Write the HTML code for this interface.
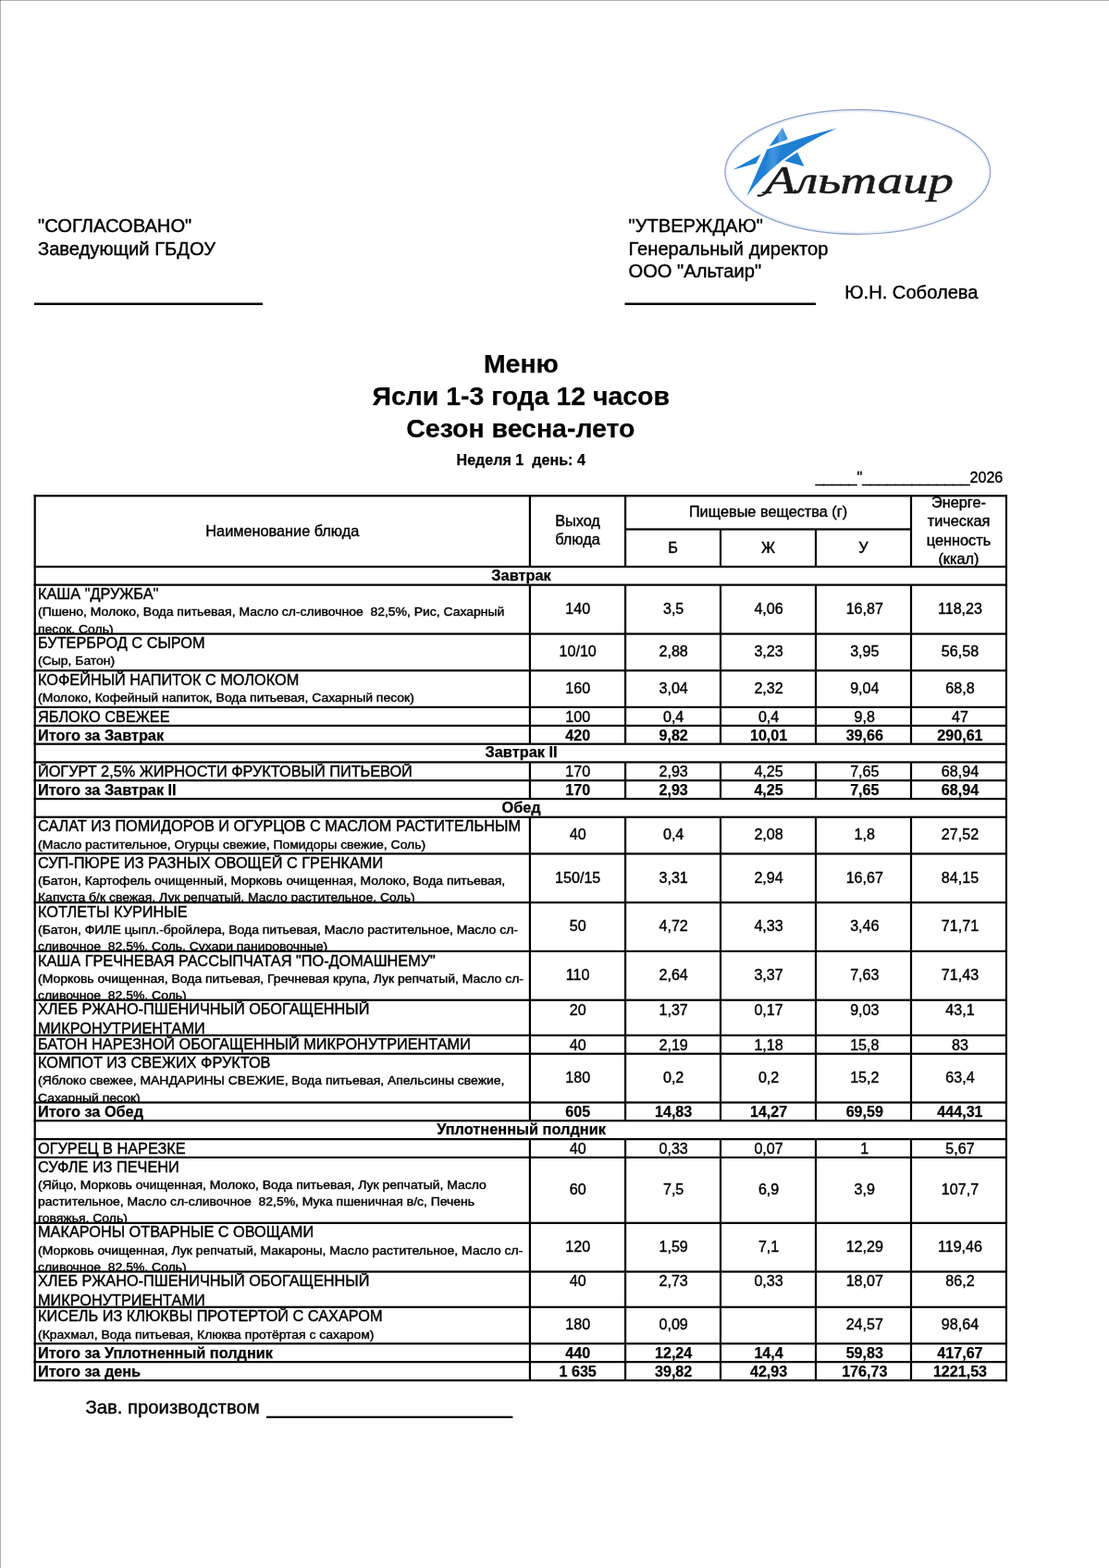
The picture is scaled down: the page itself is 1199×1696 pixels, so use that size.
<!DOCTYPE html>
<html lang="ru"><head><meta charset="utf-8"><title>Меню</title>
<style>

html,body{margin:0;padding:0;background:#fff;}
body{-webkit-text-stroke:0.4px #000;width:1199px;height:1696px;position:relative;overflow:hidden;font-family:"Liberation Sans",sans-serif;color:#000;}
.pg{position:absolute;left:0;top:0;width:1199px;height:1696px;overflow:hidden;}
.a{position:absolute;white-space:nowrap;}
.l{position:absolute;background:#000;}
.c{position:absolute;overflow:hidden;}
.n{position:absolute;text-align:center;font-size:16.1px;white-space:nowrap;}
.b{font-weight:bold;-webkit-text-stroke:0.25px #000;}

</style></head><body><div class="pg">
<div class="a" style="left:0;top:0;width:1199px;height:1px;background:#b0b0b0"></div>
<div class="a" style="left:0;top:0;width:1px;height:1696px;background:#b0b0b0"></div>
<div class="a" style="left:0;top:0;width:1px;height:1px;background:#777"></div>
<svg class="a" style="left:770px;top:100px" width="320" height="170" viewBox="770 100 320 170">
<defs>
<linearGradient id="lg1" x1="0" y1="0" x2="1" y2="0"><stop offset="0" stop-color="#1a78cc"/><stop offset="0.45" stop-color="#2b86d6"/><stop offset="0.55" stop-color="#5aa6e6"/><stop offset="1" stop-color="#2b86d6"/></linearGradient>
<linearGradient id="lg2" x1="0" y1="0" x2="1" y2="0"><stop offset="0" stop-color="#1f7fd2"/><stop offset="0.5" stop-color="#4b9be2"/><stop offset="1" stop-color="#1f7fd2"/></linearGradient>
<clipPath id="cp1"><path d="M904.8 138.7 Q876 145.5 851.4 154.7 L829.4 161.4 Q820 182 807.4 212.1 Q822 192 844.8 174.1 Q870 154 904.8 138.7 Z"/></clipPath>
</defs>
<ellipse cx="927.3" cy="186" rx="142.2" ry="66" fill="#fff" stroke="#eaf1fa" stroke-width="2.4"/>
<ellipse cx="927.3" cy="186" rx="143.5" ry="67.3" fill="none" stroke="#8f9fc6" stroke-width="1.2"/>
<g fill="#1f7fd2">
<path d="M846.1 138 L831.7 158.3 L851.7 150.7 Z" fill="url(#lg1)"/>
<path d="M904.8 138.7 Q876 145.5 851.4 154.7 L829.4 161.4 Q820 182 807.4 212.1 Q822 192 844.8 174.1 Q870 154 904.8 138.7 Z"/>
<path d="M832 160 L846 156 L840 178 L826 194 Z" fill="url(#lg2)" opacity="0.8" clip-path="url(#cp1)"/>
<path d="M792 183.8 L822.7 166.7 L817.4 176.8 Z"/>
<path d="M862.1 164.7 L869.5 180.1 L848.1 174.1 Z"/>
</g>
<path d="M819.5 211.5 C824 212.5 829 209 833 203" fill="none" stroke="#1a1a1a" stroke-width="2.2" stroke-linecap="round"/>
<text x="827" y="209" font-family="'Liberation Serif',serif" font-style="italic" font-size="42" textLength="204" lengthAdjust="spacingAndGlyphs" fill="#1a1a1a" stroke="#1a1a1a" stroke-width="0.6">Альтаир</text>
</svg>

<div class="a " style="left:41.00px;top:234.19px;font-size:20.15px;line-height:20.15px;">&quot;СОГЛАСОВАНО&quot;</div>
<div class="a " style="left:41.00px;top:259.24px;font-size:20.15px;line-height:20.15px;">Заведующий ГБДОУ</div>
<div class="a " style="left:679.50px;top:234.19px;font-size:20.15px;line-height:20.15px;">&quot;УТВЕРЖДАЮ&quot;</div>
<div class="a " style="left:679.50px;top:259.24px;font-size:20.15px;line-height:20.15px;">Генеральный директор</div>
<div class="a " style="left:679.50px;top:282.94px;font-size:20.15px;line-height:20.15px;">ООО &quot;Альтаир&quot;</div>
<div class="a " style="left:913.20px;top:306.24px;font-size:20.15px;line-height:20.15px;">Ю.Н. Соболева</div>
<div class="a b" style="left:563.40px;top:379.42px;width:600px;margin-left:-300px;text-align:center;font-size:28.45px;line-height:28.45px;">Меню</div>
<div class="a b" style="left:563.20px;top:414.22px;width:600px;margin-left:-300px;text-align:center;font-size:28.45px;line-height:28.45px;">Ясли 1-3 года 12 часов</div>
<div class="a b" style="left:562.90px;top:448.52px;width:600px;margin-left:-300px;text-align:center;font-size:28.45px;line-height:28.45px;">Сезон весна-лето</div>
<div class="a b" style="left:563.20px;top:488.57px;width:600px;margin-left:-300px;text-align:center;font-size:16.10px;line-height:16.10px;white-space:pre;">Неделя 1  день: 4</div>
<div class="a" style="right:114.70px;top:508.37px;font-size:16.1px;line-height:16.1px;">_____&quot;_____________2026</div>
<div class="n " style="left:37.70px;top:565.70px;width:535.20px;font-size:16.30px;line-height:16.30px">Наименование блюда</div>
<div class="n " style="left:572.90px;top:554.70px;width:103.20px;font-size:16.30px;line-height:16.30px">Выход</div>
<div class="n " style="left:572.90px;top:575.20px;width:103.20px;font-size:16.30px;line-height:16.30px">блюда</div>
<div class="n " style="left:676.10px;top:544.95px;width:308.90px;font-size:16.30px;line-height:16.30px">Пищевые вещества (г)</div>
<div class="n " style="left:676.10px;top:584.30px;width:102.90px;font-size:16.30px;line-height:16.30px">Б</div>
<div class="n " style="left:779.00px;top:584.30px;width:103.00px;font-size:16.30px;line-height:16.30px">Ж</div>
<div class="n " style="left:882.00px;top:584.30px;width:103.00px;font-size:16.30px;line-height:16.30px">У</div>
<div class="c" style="left:985.00px;top:537.00px;width:102.95px;height:75.25px">
<div class="n" style="left:0;top:-2.30px;width:100%;font-size:16.30px;line-height:16.30px">Энерге-</div>
<div class="n" style="left:0;top:18.23px;width:100%;font-size:16.30px;line-height:16.30px">тическая</div>
<div class="n" style="left:0;top:38.76px;width:100%;font-size:16.30px;line-height:16.30px">ценность</div>
<div class="n" style="left:0;top:59.29px;width:100%;font-size:16.30px;line-height:16.30px">(ккал)</div>
</div>
<div class="n b" style="left:37.70px;top:613.66px;width:1051.75px;font-size:16.35px;line-height:16.35px">Завтрак</div>
<div class="c" style="left:38.80px;top:633.75px;width:533.00px;height:51.05px"><div class="a nm" style="left:2.20px;top:0.55px;font-size:16.30px;line-height:16.30px;white-space:pre">КАША &quot;ДРУЖБА&quot;</div><div class="a ig" style="left:2.20px;top:22.61px;font-size:12.10px;line-height:12.10px;white-space:pre;transform:scaleX(1.153);transform-origin:0 0">(Пшено, Молоко, Вода питьевая, Масло сл-сливочное  82,5%, Рис, Сахарный</div><div class="a ig" style="left:2.20px;top:40.86px;font-size:12.10px;line-height:12.10px;white-space:pre;transform:scaleX(1.153);transform-origin:0 0">песок, Соль)</div></div>
<div class="n " style="left:573.10px;top:649.80px;width:103.20px;font-size:16.10px;line-height:16.10px">140</div>
<div class="n " style="left:676.70px;top:649.80px;width:102.90px;font-size:16.10px;line-height:16.10px">3,5</div>
<div class="n " style="left:779.60px;top:649.80px;width:103.00px;font-size:16.10px;line-height:16.10px">4,06</div>
<div class="n " style="left:883.30px;top:649.80px;width:103.00px;font-size:16.10px;line-height:16.10px">16,87</div>
<div class="n " style="left:986.50px;top:649.80px;width:102.95px;font-size:16.10px;line-height:16.10px">118,23</div>
<div class="c" style="left:38.80px;top:686.70px;width:533.00px;height:37.80px"><div class="a nm" style="left:2.20px;top:0.55px;font-size:16.30px;line-height:16.30px;white-space:pre">БУТЕРБРОД С СЫРОМ</div><div class="a ig" style="left:2.20px;top:22.61px;font-size:12.10px;line-height:12.10px;white-space:pre;transform:scaleX(1.153);transform-origin:0 0">(Сыр, Батон)</div></div>
<div class="n " style="left:573.10px;top:696.12px;width:103.20px;font-size:16.10px;line-height:16.10px">10/10</div>
<div class="n " style="left:676.70px;top:696.12px;width:102.90px;font-size:16.10px;line-height:16.10px">2,88</div>
<div class="n " style="left:779.60px;top:696.12px;width:103.00px;font-size:16.10px;line-height:16.10px">3,23</div>
<div class="n " style="left:883.30px;top:696.12px;width:103.00px;font-size:16.10px;line-height:16.10px">3,95</div>
<div class="n " style="left:986.50px;top:696.12px;width:102.95px;font-size:16.10px;line-height:16.10px">56,58</div>
<div class="c" style="left:38.80px;top:726.40px;width:533.00px;height:37.70px"><div class="a nm" style="left:2.20px;top:0.55px;font-size:16.30px;line-height:16.30px;white-space:pre">КОФЕЙНЫЙ НАПИТОК С МОЛОКОМ</div><div class="a ig" style="left:2.20px;top:22.61px;font-size:12.10px;line-height:12.10px;white-space:pre;transform:scaleX(1.153);transform-origin:0 0">(Молоко, Кофейный напиток, Вода питьевая, Сахарный песок)</div></div>
<div class="n " style="left:573.10px;top:735.77px;width:103.20px;font-size:16.10px;line-height:16.10px">160</div>
<div class="n " style="left:676.70px;top:735.77px;width:102.90px;font-size:16.10px;line-height:16.10px">3,04</div>
<div class="n " style="left:779.60px;top:735.77px;width:103.00px;font-size:16.10px;line-height:16.10px">2,32</div>
<div class="n " style="left:883.30px;top:735.77px;width:103.00px;font-size:16.10px;line-height:16.10px">9,04</div>
<div class="n " style="left:986.50px;top:735.77px;width:102.95px;font-size:16.10px;line-height:16.10px">68,8</div>
<div class="c" style="left:38.80px;top:766.00px;width:533.00px;height:18.10px"><div class="a nm" style="left:2.20px;top:0.55px;font-size:16.30px;line-height:16.30px;white-space:pre">ЯБЛОКО СВЕЖЕЕ</div></div>
<div class="n " style="left:573.10px;top:766.72px;width:103.20px;font-size:16.10px;line-height:16.10px">100</div>
<div class="n " style="left:676.70px;top:766.72px;width:102.90px;font-size:16.10px;line-height:16.10px">0,4</div>
<div class="n " style="left:779.60px;top:766.72px;width:103.00px;font-size:16.10px;line-height:16.10px">0,4</div>
<div class="n " style="left:883.30px;top:766.72px;width:103.00px;font-size:16.10px;line-height:16.10px">9,8</div>
<div class="n " style="left:986.50px;top:766.72px;width:102.95px;font-size:16.10px;line-height:16.10px">47</div>
<div class="c" style="left:38.80px;top:786.00px;width:533.00px;height:17.90px"><div class="a nm b" style="left:2.20px;top:0.55px;font-size:16.30px;line-height:16.30px;white-space:pre">Итого за Завтрак</div></div>
<div class="n b" style="left:573.10px;top:786.72px;width:103.20px;font-size:16.10px;line-height:16.10px">420</div>
<div class="n b" style="left:676.70px;top:786.72px;width:102.90px;font-size:16.10px;line-height:16.10px">9,82</div>
<div class="n b" style="left:779.60px;top:786.72px;width:103.00px;font-size:16.10px;line-height:16.10px">10,01</div>
<div class="n b" style="left:883.30px;top:786.72px;width:103.00px;font-size:16.10px;line-height:16.10px">39,66</div>
<div class="n b" style="left:986.50px;top:786.72px;width:102.95px;font-size:16.10px;line-height:16.10px">290,61</div>
<div class="n b" style="left:37.70px;top:805.41px;width:1051.75px;font-size:16.35px;line-height:16.35px">Завтрак II</div>
<div class="c" style="left:38.80px;top:825.55px;width:533.00px;height:17.85px"><div class="a nm" style="left:2.20px;top:0.55px;font-size:16.30px;line-height:16.30px;white-space:pre">ЙОГУРТ 2,5% ЖИРНОСТИ ФРУКТОВЫЙ ПИТЬЕВОЙ</div></div>
<div class="n " style="left:573.10px;top:826.27px;width:103.20px;font-size:16.10px;line-height:16.10px">170</div>
<div class="n " style="left:676.70px;top:826.27px;width:102.90px;font-size:16.10px;line-height:16.10px">2,93</div>
<div class="n " style="left:779.60px;top:826.27px;width:103.00px;font-size:16.10px;line-height:16.10px">4,25</div>
<div class="n " style="left:883.30px;top:826.27px;width:103.00px;font-size:16.10px;line-height:16.10px">7,65</div>
<div class="n " style="left:986.50px;top:826.27px;width:102.95px;font-size:16.10px;line-height:16.10px">68,94</div>
<div class="c" style="left:38.80px;top:845.30px;width:533.00px;height:17.95px"><div class="a nm b" style="left:2.20px;top:0.55px;font-size:16.30px;line-height:16.30px;white-space:pre">Итого за Завтрак II</div></div>
<div class="n b" style="left:573.10px;top:846.02px;width:103.20px;font-size:16.10px;line-height:16.10px">170</div>
<div class="n b" style="left:676.70px;top:846.02px;width:102.90px;font-size:16.10px;line-height:16.10px">2,93</div>
<div class="n b" style="left:779.60px;top:846.02px;width:103.00px;font-size:16.10px;line-height:16.10px">4,25</div>
<div class="n b" style="left:883.30px;top:846.02px;width:103.00px;font-size:16.10px;line-height:16.10px">7,65</div>
<div class="n b" style="left:986.50px;top:846.02px;width:102.95px;font-size:16.10px;line-height:16.10px">68,94</div>
<div class="n b" style="left:37.70px;top:864.76px;width:1051.75px;font-size:16.35px;line-height:16.35px">Обед</div>
<div class="c" style="left:38.80px;top:884.90px;width:533.00px;height:37.75px"><div class="a nm" style="left:2.20px;top:0.55px;font-size:16.30px;line-height:16.30px;white-space:pre">САЛАТ ИЗ ПОМИДОРОВ И ОГУРЦОВ С МАСЛОМ РАСТИТЕЛЬНЫМ</div><div class="a ig" style="left:2.20px;top:22.61px;font-size:12.10px;line-height:12.10px;white-space:pre;transform:scaleX(1.153);transform-origin:0 0">(Масло растительное, Огурцы свежие, Помидоры свежие, Соль)</div></div>
<div class="n " style="left:573.10px;top:894.30px;width:103.20px;font-size:16.10px;line-height:16.10px">40</div>
<div class="n " style="left:676.70px;top:894.30px;width:102.90px;font-size:16.10px;line-height:16.10px">0,4</div>
<div class="n " style="left:779.60px;top:894.30px;width:103.00px;font-size:16.10px;line-height:16.10px">2,08</div>
<div class="n " style="left:883.30px;top:894.30px;width:103.00px;font-size:16.10px;line-height:16.10px">1,8</div>
<div class="n " style="left:986.50px;top:894.30px;width:102.95px;font-size:16.10px;line-height:16.10px">27,52</div>
<div class="c" style="left:38.80px;top:924.55px;width:533.00px;height:50.85px"><div class="a nm" style="left:2.20px;top:0.55px;font-size:16.30px;line-height:16.30px;white-space:pre">СУП-ПЮРЕ ИЗ РАЗНЫХ ОВОЩЕЙ С ГРЕНКАМИ</div><div class="a ig" style="left:2.20px;top:22.61px;font-size:12.10px;line-height:12.10px;white-space:pre;transform:scaleX(1.153);transform-origin:0 0">(Батон, Картофель очищенный, Морковь очищенная, Молоко, Вода питьевая,</div><div class="a ig" style="left:2.20px;top:40.86px;font-size:12.10px;line-height:12.10px;white-space:pre;transform:scaleX(1.153);transform-origin:0 0">Капуста б/к свежая, Лук репчатый, Масло растительное, Соль)</div></div>
<div class="n " style="left:573.10px;top:940.50px;width:103.20px;font-size:16.10px;line-height:16.10px">150/15</div>
<div class="n " style="left:676.70px;top:940.50px;width:102.90px;font-size:16.10px;line-height:16.10px">3,31</div>
<div class="n " style="left:779.60px;top:940.50px;width:103.00px;font-size:16.10px;line-height:16.10px">2,94</div>
<div class="n " style="left:883.30px;top:940.50px;width:103.00px;font-size:16.10px;line-height:16.10px">16,67</div>
<div class="n " style="left:986.50px;top:940.50px;width:102.95px;font-size:16.10px;line-height:16.10px">84,15</div>
<div class="c" style="left:38.80px;top:977.30px;width:533.00px;height:50.80px"><div class="a nm" style="left:2.20px;top:0.55px;font-size:16.30px;line-height:16.30px;white-space:pre">КОТЛЕТЫ КУРИНЫЕ</div><div class="a ig" style="left:2.20px;top:22.61px;font-size:12.10px;line-height:12.10px;white-space:pre;transform:scaleX(1.153);transform-origin:0 0">(Батон, ФИЛЕ цыпл.-бройлера, Вода питьевая, Масло растительное, Масло сл-</div><div class="a ig" style="left:2.20px;top:40.86px;font-size:12.10px;line-height:12.10px;white-space:pre;transform:scaleX(1.153);transform-origin:0 0">сливочное  82,5%, Соль, Сухари панировочные)</div></div>
<div class="n " style="left:573.10px;top:993.22px;width:103.20px;font-size:16.10px;line-height:16.10px">50</div>
<div class="n " style="left:676.70px;top:993.22px;width:102.90px;font-size:16.10px;line-height:16.10px">4,72</div>
<div class="n " style="left:779.60px;top:993.22px;width:103.00px;font-size:16.10px;line-height:16.10px">4,33</div>
<div class="n " style="left:883.30px;top:993.22px;width:103.00px;font-size:16.10px;line-height:16.10px">3,46</div>
<div class="n " style="left:986.50px;top:993.22px;width:102.95px;font-size:16.10px;line-height:16.10px">71,71</div>
<div class="c" style="left:38.80px;top:1030.00px;width:533.00px;height:50.90px"><div class="a nm" style="left:2.20px;top:0.55px;font-size:16.30px;line-height:16.30px;white-space:pre">КАША ГРЕЧНЕВАЯ РАССЫПЧАТАЯ &quot;ПО-ДОМАШНЕМУ&quot;</div><div class="a ig" style="left:2.20px;top:22.61px;font-size:12.10px;line-height:12.10px;white-space:pre;transform:scaleX(1.153);transform-origin:0 0">(Морковь очищенная, Вода питьевая, Гречневая крупа, Лук репчатый, Масло сл-</div><div class="a ig" style="left:2.20px;top:40.86px;font-size:12.10px;line-height:12.10px;white-space:pre;transform:scaleX(1.153);transform-origin:0 0">сливочное  82,5%, Соль)</div></div>
<div class="n " style="left:573.10px;top:1045.97px;width:103.20px;font-size:16.10px;line-height:16.10px">110</div>
<div class="n " style="left:676.70px;top:1045.97px;width:102.90px;font-size:16.10px;line-height:16.10px">2,64</div>
<div class="n " style="left:779.60px;top:1045.97px;width:103.00px;font-size:16.10px;line-height:16.10px">3,37</div>
<div class="n " style="left:883.30px;top:1045.97px;width:103.00px;font-size:16.10px;line-height:16.10px">7,63</div>
<div class="n " style="left:986.50px;top:1045.97px;width:102.95px;font-size:16.10px;line-height:16.10px">71,43</div>
<div class="c" style="left:38.80px;top:1082.80px;width:533.00px;height:36.25px"><div class="a nm" style="left:2.20px;top:0.55px;font-size:16.30px;line-height:16.30px;white-space:pre">ХЛЕБ РЖАНО-ПШЕНИЧНЫЙ ОБОГАЩЕННЫЙ</div><div class="a nm" style="left:2.20px;top:21.05px;font-size:16.30px;line-height:16.30px;white-space:pre">МИКРОНУТРИЕНТАМИ</div></div>
<div class="n " style="left:573.10px;top:1083.67px;width:103.20px;font-size:16.10px;line-height:16.10px">20</div>
<div class="n " style="left:676.70px;top:1083.67px;width:102.90px;font-size:16.10px;line-height:16.10px">1,37</div>
<div class="n " style="left:779.60px;top:1083.67px;width:103.00px;font-size:16.10px;line-height:16.10px">0,17</div>
<div class="n " style="left:883.30px;top:1083.67px;width:103.00px;font-size:16.10px;line-height:16.10px">9,03</div>
<div class="n " style="left:986.50px;top:1083.67px;width:102.95px;font-size:16.10px;line-height:16.10px">43,1</div>
<div class="c" style="left:38.80px;top:1120.95px;width:533.00px;height:18.00px"><div class="a nm" style="left:2.20px;top:0.55px;font-size:16.30px;line-height:16.30px;white-space:pre">БАТОН НАРЕЗНОЙ ОБОГАЩЕННЫЙ МИКРОНУТРИЕНТАМИ</div></div>
<div class="n " style="left:573.10px;top:1121.67px;width:103.20px;font-size:16.10px;line-height:16.10px">40</div>
<div class="n " style="left:676.70px;top:1121.67px;width:102.90px;font-size:16.10px;line-height:16.10px">2,19</div>
<div class="n " style="left:779.60px;top:1121.67px;width:103.00px;font-size:16.10px;line-height:16.10px">1,18</div>
<div class="n " style="left:883.30px;top:1121.67px;width:103.00px;font-size:16.10px;line-height:16.10px">15,8</div>
<div class="n " style="left:986.50px;top:1121.67px;width:102.95px;font-size:16.10px;line-height:16.10px">83</div>
<div class="c" style="left:38.80px;top:1140.85px;width:533.00px;height:50.85px"><div class="a nm" style="left:2.20px;top:0.55px;font-size:16.30px;line-height:16.30px;white-space:pre">КОМПОТ ИЗ СВЕЖИХ ФРУКТОВ</div><div class="a ig" style="left:2.20px;top:22.61px;font-size:12.10px;line-height:12.10px;white-space:pre;transform:scaleX(1.153);transform-origin:0 0">(Яблоко свежее, МАНДАРИНЫ СВЕЖИЕ, Вода питьевая, Апельсины свежие,</div><div class="a ig" style="left:2.20px;top:40.86px;font-size:12.10px;line-height:12.10px;white-space:pre;transform:scaleX(1.153);transform-origin:0 0">Сахарный песок)</div></div>
<div class="n " style="left:573.10px;top:1156.80px;width:103.20px;font-size:16.10px;line-height:16.10px">180</div>
<div class="n " style="left:676.70px;top:1156.80px;width:102.90px;font-size:16.10px;line-height:16.10px">0,2</div>
<div class="n " style="left:779.60px;top:1156.80px;width:103.00px;font-size:16.10px;line-height:16.10px">0,2</div>
<div class="n " style="left:883.30px;top:1156.80px;width:103.00px;font-size:16.10px;line-height:16.10px">15,2</div>
<div class="n " style="left:986.50px;top:1156.80px;width:102.95px;font-size:16.10px;line-height:16.10px">63,4</div>
<div class="c" style="left:38.80px;top:1193.60px;width:533.00px;height:17.80px"><div class="a nm b" style="left:2.20px;top:0.55px;font-size:16.30px;line-height:16.30px;white-space:pre">Итого за Обед</div></div>
<div class="n b" style="left:573.10px;top:1194.32px;width:103.20px;font-size:16.10px;line-height:16.10px">605</div>
<div class="n b" style="left:676.70px;top:1194.32px;width:102.90px;font-size:16.10px;line-height:16.10px">14,83</div>
<div class="n b" style="left:779.60px;top:1194.32px;width:103.00px;font-size:16.10px;line-height:16.10px">14,27</div>
<div class="n b" style="left:883.30px;top:1194.32px;width:103.00px;font-size:16.10px;line-height:16.10px">69,59</div>
<div class="n b" style="left:986.50px;top:1194.32px;width:102.95px;font-size:16.10px;line-height:16.10px">444,31</div>
<div class="n b" style="left:37.70px;top:1212.91px;width:1051.75px;font-size:16.35px;line-height:16.35px">Уплотненный полдник</div>
<div class="c" style="left:38.80px;top:1233.25px;width:533.00px;height:17.85px"><div class="a nm" style="left:2.20px;top:0.55px;font-size:16.30px;line-height:16.30px;white-space:pre">ОГУРЕЦ В НАРЕЗКЕ</div></div>
<div class="n " style="left:573.10px;top:1233.97px;width:103.20px;font-size:16.10px;line-height:16.10px">40</div>
<div class="n " style="left:676.70px;top:1233.97px;width:102.90px;font-size:16.10px;line-height:16.10px">0,33</div>
<div class="n " style="left:779.60px;top:1233.97px;width:103.00px;font-size:16.10px;line-height:16.10px">0,07</div>
<div class="n " style="left:883.30px;top:1233.97px;width:103.00px;font-size:16.10px;line-height:16.10px">1</div>
<div class="n " style="left:986.50px;top:1233.97px;width:102.95px;font-size:16.10px;line-height:16.10px">5,67</div>
<div class="c" style="left:38.80px;top:1253.00px;width:533.00px;height:69.00px"><div class="a nm" style="left:2.20px;top:0.55px;font-size:16.30px;line-height:16.30px;white-space:pre">СУФЛЕ ИЗ ПЕЧЕНИ</div><div class="a ig" style="left:2.20px;top:22.61px;font-size:12.10px;line-height:12.10px;white-space:pre;transform:scaleX(1.153);transform-origin:0 0">(Яйцо, Морковь очищенная, Молоко, Вода питьевая, Лук репчатый, Масло</div><div class="a ig" style="left:2.20px;top:40.86px;font-size:12.10px;line-height:12.10px;white-space:pre;transform:scaleX(1.153);transform-origin:0 0">растительное, Масло сл-сливочное  82,5%, Мука пшеничная в/с, Печень</div><div class="a ig" style="left:2.20px;top:59.11px;font-size:12.10px;line-height:12.10px;white-space:pre;transform:scaleX(1.153);transform-origin:0 0">говяжья, Соль)</div></div>
<div class="n " style="left:573.10px;top:1278.02px;width:103.20px;font-size:16.10px;line-height:16.10px">60</div>
<div class="n " style="left:676.70px;top:1278.02px;width:102.90px;font-size:16.10px;line-height:16.10px">7,5</div>
<div class="n " style="left:779.60px;top:1278.02px;width:103.00px;font-size:16.10px;line-height:16.10px">6,9</div>
<div class="n " style="left:883.30px;top:1278.02px;width:103.00px;font-size:16.10px;line-height:16.10px">3,9</div>
<div class="n " style="left:986.50px;top:1278.02px;width:102.95px;font-size:16.10px;line-height:16.10px">107,7</div>
<div class="c" style="left:38.80px;top:1323.90px;width:533.00px;height:50.80px"><div class="a nm" style="left:2.20px;top:0.55px;font-size:16.30px;line-height:16.30px;white-space:pre">МАКАРОНЫ ОТВАРНЫЕ С ОВОЩАМИ</div><div class="a ig" style="left:2.20px;top:22.61px;font-size:12.10px;line-height:12.10px;white-space:pre;transform:scaleX(1.153);transform-origin:0 0">(Морковь очищенная, Лук репчатый, Макароны, Масло растительное, Масло сл-</div><div class="a ig" style="left:2.20px;top:40.86px;font-size:12.10px;line-height:12.10px;white-space:pre;transform:scaleX(1.153);transform-origin:0 0">сливочное  82,5%, Соль)</div></div>
<div class="n " style="left:573.10px;top:1339.82px;width:103.20px;font-size:16.10px;line-height:16.10px">120</div>
<div class="n " style="left:676.70px;top:1339.82px;width:102.90px;font-size:16.10px;line-height:16.10px">1,59</div>
<div class="n " style="left:779.60px;top:1339.82px;width:103.00px;font-size:16.10px;line-height:16.10px">7,1</div>
<div class="n " style="left:883.30px;top:1339.82px;width:103.00px;font-size:16.10px;line-height:16.10px">12,29</div>
<div class="n " style="left:986.50px;top:1339.82px;width:102.95px;font-size:16.10px;line-height:16.10px">119,46</div>
<div class="c" style="left:38.80px;top:1376.60px;width:533.00px;height:36.40px"><div class="a nm" style="left:2.20px;top:0.55px;font-size:16.30px;line-height:16.30px;white-space:pre">ХЛЕБ РЖАНО-ПШЕНИЧНЫЙ ОБОГАЩЕННЫЙ</div><div class="a nm" style="left:2.20px;top:21.05px;font-size:16.30px;line-height:16.30px;white-space:pre">МИКРОНУТРИЕНТАМИ</div></div>
<div class="n " style="left:573.10px;top:1377.47px;width:103.20px;font-size:16.10px;line-height:16.10px">40</div>
<div class="n " style="left:676.70px;top:1377.47px;width:102.90px;font-size:16.10px;line-height:16.10px">2,73</div>
<div class="n " style="left:779.60px;top:1377.47px;width:103.00px;font-size:16.10px;line-height:16.10px">0,33</div>
<div class="n " style="left:883.30px;top:1377.47px;width:103.00px;font-size:16.10px;line-height:16.10px">18,07</div>
<div class="n " style="left:986.50px;top:1377.47px;width:102.95px;font-size:16.10px;line-height:16.10px">86,2</div>
<div class="c" style="left:38.80px;top:1414.90px;width:533.00px;height:37.60px"><div class="a nm" style="left:2.20px;top:0.55px;font-size:16.30px;line-height:16.30px;white-space:pre">КИСЕЛЬ ИЗ КЛЮКВЫ ПРОТЕРТОЙ С САХАРОМ</div><div class="a ig" style="left:2.20px;top:22.61px;font-size:12.10px;line-height:12.10px;white-space:pre;transform:scaleX(1.153);transform-origin:0 0">(Крахмал, Вода питьевая, Клюква протёртая с сахаром)</div></div>
<div class="n " style="left:573.10px;top:1424.22px;width:103.20px;font-size:16.10px;line-height:16.10px">180</div>
<div class="n " style="left:676.70px;top:1424.22px;width:102.90px;font-size:16.10px;line-height:16.10px">0,09</div>
<div class="n " style="left:883.30px;top:1424.22px;width:103.00px;font-size:16.10px;line-height:16.10px">24,57</div>
<div class="n " style="left:986.50px;top:1424.22px;width:102.95px;font-size:16.10px;line-height:16.10px">98,64</div>
<div class="c" style="left:38.80px;top:1454.40px;width:533.00px;height:17.95px"><div class="a nm b" style="left:2.20px;top:0.55px;font-size:16.30px;line-height:16.30px;white-space:pre">Итого за Уплотненный полдник</div></div>
<div class="n b" style="left:573.10px;top:1455.12px;width:103.20px;font-size:16.10px;line-height:16.10px">440</div>
<div class="n b" style="left:676.70px;top:1455.12px;width:102.90px;font-size:16.10px;line-height:16.10px">12,24</div>
<div class="n b" style="left:779.60px;top:1455.12px;width:103.00px;font-size:16.10px;line-height:16.10px">14,4</div>
<div class="n b" style="left:883.30px;top:1455.12px;width:103.00px;font-size:16.10px;line-height:16.10px">59,83</div>
<div class="n b" style="left:986.50px;top:1455.12px;width:102.95px;font-size:16.10px;line-height:16.10px">417,67</div>
<div class="c" style="left:38.80px;top:1474.25px;width:533.00px;height:18.05px"><div class="a nm b" style="left:2.20px;top:0.55px;font-size:16.30px;line-height:16.30px;white-space:pre">Итого за день</div></div>
<div class="n b" style="left:573.10px;top:1474.97px;width:103.20px;font-size:16.10px;line-height:16.10px">1 635</div>
<div class="n b" style="left:676.70px;top:1474.97px;width:102.90px;font-size:16.10px;line-height:16.10px">39,82</div>
<div class="n b" style="left:779.60px;top:1474.97px;width:103.00px;font-size:16.10px;line-height:16.10px">42,93</div>
<div class="n b" style="left:883.30px;top:1474.97px;width:103.00px;font-size:16.10px;line-height:16.10px">176,73</div>
<div class="n b" style="left:986.50px;top:1474.97px;width:102.95px;font-size:16.10px;line-height:16.10px">1221,53</div>
<div class="a " style="left:92.50px;top:1512.12px;font-size:20.30px;line-height:20.30px;">Зав. производством</div>
<svg class="a" style="left:0;top:0;pointer-events:none" width="1199" height="1696" viewBox="0 0 1199 1696" fill="#000"><rect x="37.00" y="327.50" width="247.00" height="2.50"/><rect x="675.50" y="327.50" width="206.50" height="2.50"/><rect x="36.60" y="535.20" width="1052.45" height="2.20"/><rect x="36.60" y="611.85" width="1052.45" height="2.20"/><rect x="36.60" y="631.55" width="1052.45" height="2.20"/><rect x="36.60" y="684.50" width="1052.45" height="2.20"/><rect x="36.60" y="724.20" width="1052.45" height="2.20"/><rect x="36.60" y="763.80" width="1052.45" height="2.20"/><rect x="36.60" y="783.80" width="1052.45" height="2.20"/><rect x="36.60" y="803.60" width="1052.45" height="2.20"/><rect x="36.60" y="823.35" width="1052.45" height="2.20"/><rect x="36.60" y="843.10" width="1052.45" height="2.20"/><rect x="36.60" y="862.95" width="1052.45" height="2.20"/><rect x="36.60" y="882.70" width="1052.45" height="2.20"/><rect x="36.60" y="922.35" width="1052.45" height="2.20"/><rect x="36.60" y="975.10" width="1052.45" height="2.20"/><rect x="36.60" y="1027.80" width="1052.45" height="2.20"/><rect x="36.60" y="1080.60" width="1052.45" height="2.20"/><rect x="36.60" y="1118.75" width="1052.45" height="2.20"/><rect x="36.60" y="1138.65" width="1052.45" height="2.20"/><rect x="36.60" y="1191.40" width="1052.45" height="2.20"/><rect x="36.60" y="1211.10" width="1052.45" height="2.20"/><rect x="36.60" y="1231.05" width="1052.45" height="2.20"/><rect x="36.60" y="1250.80" width="1052.45" height="2.20"/><rect x="36.60" y="1321.70" width="1052.45" height="2.20"/><rect x="36.60" y="1374.40" width="1052.45" height="2.20"/><rect x="36.60" y="1412.70" width="1052.45" height="2.20"/><rect x="36.60" y="1452.20" width="1052.45" height="2.20"/><rect x="36.60" y="1472.05" width="1052.45" height="2.20"/><rect x="36.60" y="1492.00" width="1052.45" height="2.20"/><rect x="676.10" y="571.40" width="308.90" height="2.20"/><rect x="36.60" y="535.20" width="2.20" height="959.00"/><rect x="1086.85" y="535.20" width="2.20" height="959.00"/><rect x="571.80" y="536.30" width="2.20" height="76.65"/><rect x="675.00" y="536.30" width="2.20" height="76.65"/><rect x="983.90" y="536.30" width="2.20" height="76.65"/><rect x="777.90" y="572.50" width="2.20" height="40.45"/><rect x="880.90" y="572.50" width="2.20" height="40.45"/><rect x="571.80" y="632.65" width="2.20" height="52.95"/><rect x="675.00" y="632.65" width="2.20" height="52.95"/><rect x="777.90" y="632.65" width="2.20" height="52.95"/><rect x="880.90" y="632.65" width="2.20" height="52.95"/><rect x="983.90" y="632.65" width="2.20" height="52.95"/><rect x="571.80" y="685.60" width="2.20" height="39.70"/><rect x="675.00" y="685.60" width="2.20" height="39.70"/><rect x="777.90" y="685.60" width="2.20" height="39.70"/><rect x="880.90" y="685.60" width="2.20" height="39.70"/><rect x="983.90" y="685.60" width="2.20" height="39.70"/><rect x="571.80" y="725.30" width="2.20" height="39.60"/><rect x="675.00" y="725.30" width="2.20" height="39.60"/><rect x="777.90" y="725.30" width="2.20" height="39.60"/><rect x="880.90" y="725.30" width="2.20" height="39.60"/><rect x="983.90" y="725.30" width="2.20" height="39.60"/><rect x="571.80" y="764.90" width="2.20" height="20.00"/><rect x="675.00" y="764.90" width="2.20" height="20.00"/><rect x="777.90" y="764.90" width="2.20" height="20.00"/><rect x="880.90" y="764.90" width="2.20" height="20.00"/><rect x="983.90" y="764.90" width="2.20" height="20.00"/><rect x="571.80" y="784.90" width="2.20" height="19.80"/><rect x="675.00" y="784.90" width="2.20" height="19.80"/><rect x="777.90" y="784.90" width="2.20" height="19.80"/><rect x="880.90" y="784.90" width="2.20" height="19.80"/><rect x="983.90" y="784.90" width="2.20" height="19.80"/><rect x="571.80" y="824.45" width="2.20" height="19.75"/><rect x="675.00" y="824.45" width="2.20" height="19.75"/><rect x="777.90" y="824.45" width="2.20" height="19.75"/><rect x="880.90" y="824.45" width="2.20" height="19.75"/><rect x="983.90" y="824.45" width="2.20" height="19.75"/><rect x="571.80" y="844.20" width="2.20" height="19.85"/><rect x="675.00" y="844.20" width="2.20" height="19.85"/><rect x="777.90" y="844.20" width="2.20" height="19.85"/><rect x="880.90" y="844.20" width="2.20" height="19.85"/><rect x="983.90" y="844.20" width="2.20" height="19.85"/><rect x="571.80" y="883.80" width="2.20" height="39.65"/><rect x="675.00" y="883.80" width="2.20" height="39.65"/><rect x="777.90" y="883.80" width="2.20" height="39.65"/><rect x="880.90" y="883.80" width="2.20" height="39.65"/><rect x="983.90" y="883.80" width="2.20" height="39.65"/><rect x="571.80" y="923.45" width="2.20" height="52.75"/><rect x="675.00" y="923.45" width="2.20" height="52.75"/><rect x="777.90" y="923.45" width="2.20" height="52.75"/><rect x="880.90" y="923.45" width="2.20" height="52.75"/><rect x="983.90" y="923.45" width="2.20" height="52.75"/><rect x="571.80" y="976.20" width="2.20" height="52.70"/><rect x="675.00" y="976.20" width="2.20" height="52.70"/><rect x="777.90" y="976.20" width="2.20" height="52.70"/><rect x="880.90" y="976.20" width="2.20" height="52.70"/><rect x="983.90" y="976.20" width="2.20" height="52.70"/><rect x="571.80" y="1028.90" width="2.20" height="52.80"/><rect x="675.00" y="1028.90" width="2.20" height="52.80"/><rect x="777.90" y="1028.90" width="2.20" height="52.80"/><rect x="880.90" y="1028.90" width="2.20" height="52.80"/><rect x="983.90" y="1028.90" width="2.20" height="52.80"/><rect x="571.80" y="1081.70" width="2.20" height="38.15"/><rect x="675.00" y="1081.70" width="2.20" height="38.15"/><rect x="777.90" y="1081.70" width="2.20" height="38.15"/><rect x="880.90" y="1081.70" width="2.20" height="38.15"/><rect x="983.90" y="1081.70" width="2.20" height="38.15"/><rect x="571.80" y="1119.85" width="2.20" height="19.90"/><rect x="675.00" y="1119.85" width="2.20" height="19.90"/><rect x="777.90" y="1119.85" width="2.20" height="19.90"/><rect x="880.90" y="1119.85" width="2.20" height="19.90"/><rect x="983.90" y="1119.85" width="2.20" height="19.90"/><rect x="571.80" y="1139.75" width="2.20" height="52.75"/><rect x="675.00" y="1139.75" width="2.20" height="52.75"/><rect x="777.90" y="1139.75" width="2.20" height="52.75"/><rect x="880.90" y="1139.75" width="2.20" height="52.75"/><rect x="983.90" y="1139.75" width="2.20" height="52.75"/><rect x="571.80" y="1192.50" width="2.20" height="19.70"/><rect x="675.00" y="1192.50" width="2.20" height="19.70"/><rect x="777.90" y="1192.50" width="2.20" height="19.70"/><rect x="880.90" y="1192.50" width="2.20" height="19.70"/><rect x="983.90" y="1192.50" width="2.20" height="19.70"/><rect x="571.80" y="1232.15" width="2.20" height="19.75"/><rect x="675.00" y="1232.15" width="2.20" height="19.75"/><rect x="777.90" y="1232.15" width="2.20" height="19.75"/><rect x="880.90" y="1232.15" width="2.20" height="19.75"/><rect x="983.90" y="1232.15" width="2.20" height="19.75"/><rect x="571.80" y="1251.90" width="2.20" height="70.90"/><rect x="675.00" y="1251.90" width="2.20" height="70.90"/><rect x="777.90" y="1251.90" width="2.20" height="70.90"/><rect x="880.90" y="1251.90" width="2.20" height="70.90"/><rect x="983.90" y="1251.90" width="2.20" height="70.90"/><rect x="571.80" y="1322.80" width="2.20" height="52.70"/><rect x="675.00" y="1322.80" width="2.20" height="52.70"/><rect x="777.90" y="1322.80" width="2.20" height="52.70"/><rect x="880.90" y="1322.80" width="2.20" height="52.70"/><rect x="983.90" y="1322.80" width="2.20" height="52.70"/><rect x="571.80" y="1375.50" width="2.20" height="38.30"/><rect x="675.00" y="1375.50" width="2.20" height="38.30"/><rect x="777.90" y="1375.50" width="2.20" height="38.30"/><rect x="880.90" y="1375.50" width="2.20" height="38.30"/><rect x="983.90" y="1375.50" width="2.20" height="38.30"/><rect x="571.80" y="1413.80" width="2.20" height="39.50"/><rect x="675.00" y="1413.80" width="2.20" height="39.50"/><rect x="777.90" y="1413.80" width="2.20" height="39.50"/><rect x="880.90" y="1413.80" width="2.20" height="39.50"/><rect x="983.90" y="1413.80" width="2.20" height="39.50"/><rect x="571.80" y="1453.30" width="2.20" height="19.85"/><rect x="675.00" y="1453.30" width="2.20" height="19.85"/><rect x="777.90" y="1453.30" width="2.20" height="19.85"/><rect x="880.90" y="1453.30" width="2.20" height="19.85"/><rect x="983.90" y="1453.30" width="2.20" height="19.85"/><rect x="571.80" y="1473.15" width="2.20" height="19.95"/><rect x="675.00" y="1473.15" width="2.20" height="19.95"/><rect x="777.90" y="1473.15" width="2.20" height="19.95"/><rect x="880.90" y="1473.15" width="2.20" height="19.95"/><rect x="983.90" y="1473.15" width="2.20" height="19.95"/><rect x="288.00" y="1531.70" width="266.40" height="2.20"/></svg>
</div></body></html>
